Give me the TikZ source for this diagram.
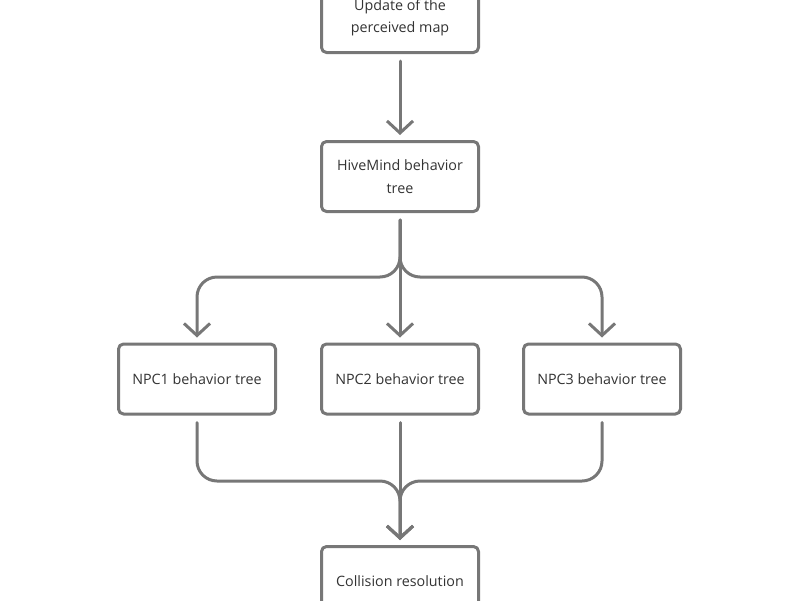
\documentclass[tikz,border=0pt]{standalone}
\usepackage{fontspec}
\setmainfont{Open Sans}
\usetikzlibrary{arrows.meta}
\definecolor{flowGray}{HTML}{777777}
\definecolor{flowText}{HTML}{333333}
\tikzset{
    tbox/.style={draw=flowGray, line width=3pt, rounded corners=5pt, fill=white, minimum width=157pt, minimum height=70pt, inner sep=0pt, align=center, text=flowText, font=\fontsize{14.3}{22.5}\selectfont},
    tline/.style={draw=flowGray, line width=3pt, rounded corners=20pt, -{Straight Barb[length=12pt,width=26pt]}, shorten <=7pt, shorten >=5pt}
}

\begin{document}
\begin{tikzpicture}[x=1pt, y=-1pt, line cap=round, line join=round]
    \useasboundingbox (0,0) rectangle (800,600);
    \node[tbox] (map) at (400,17.5) {Update of the\\perceived map};
    \node[tbox] (hive) at (400,176.5) {HiveMind behavior\\tree};
    \node[tbox] (npc1) at (197,379) {NPC1 behavior tree};
    \node[tbox] (npc2) at (400,379) {NPC2 behavior tree};
    \node[tbox] (npc3) at (602,379) {NPC3 behavior tree};
    \node[tbox] (coll) at (400,581.5) {Collision resolution};

    \coordinate (fork) at (400,277);
    \coordinate (join) at (400,481);

    \draw[tline] (map) -- (hive);
    \draw[tline] (hive.south) -- (fork) -| (npc1.north);
    \draw[tline] (hive.south) -- (npc2.north);
    \draw[tline] (hive.south) -- (fork) -| (npc3.north);
    \draw[tline] (npc1.south) |- (join) -- (coll.north);
    \draw[tline] (npc2.south) -- (coll.north);
    \draw[tline] (npc3.south) |- (join) -- (coll.north);
\end{tikzpicture}
\end{document}
